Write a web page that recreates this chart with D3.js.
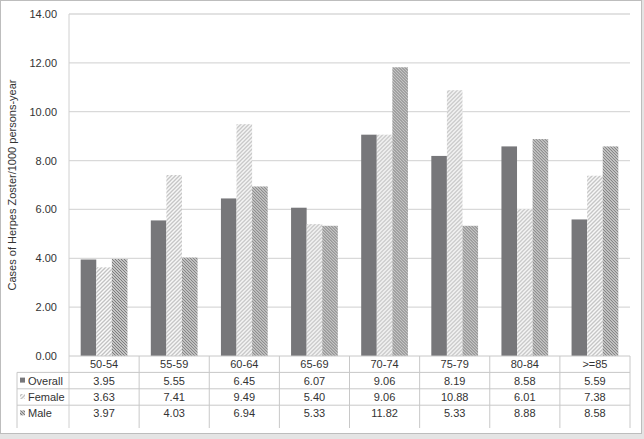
<!DOCTYPE html>
<html>
<head>
<meta charset="utf-8">
<script src="https://cdn.jsdelivr.net/npm/d3@7"></script>
<style>
  body { margin: 0; background: #e4e4e4; }
  svg { display: block; }
  text { font-family: "Liberation Sans", Arial, sans-serif; fill: #333; }
</style>
</head>
<body>
<div id="chart"></div>
<script>
// dati
const categories = ["50-54", "55-59", "60-64", "65-69", "70-74", "75-79", "80-84", ">=85"];
const seriesNames = ["Overall", "Female", "Male"];
const overall = [3.95, 5.55, 6.45, 6.07, 9.06, 8.19, 8.58, 5.59];
const female = [3.63, 7.41, 9.49, 5.40, 9.06, 10.88, 6.01, 7.38];
const male = [3.97, 4.03, 6.94, 5.33, 11.82, 5.33, 8.88, 8.58];
const yTicks = [0, 2, 4, 6, 8, 10, 12, 14];

const valori = [overall, female, male];

const W = 644, H = 439;
const plotLeft = 69, plotRight = 630, plotTop = 14, plotBottom = 356;
const rowH = 16.4;
const tableLeft = 17;
const tableBottom = 428;

const svg = d3.select("#chart").append("svg")
    .attr("width", W)
    .attr("height", H);

// pattern per le serie
const defs = svg.append("defs");
let pf = defs.append("pattern")
    .attr("id", "pFemale")
    .attr("patternUnits", "userSpaceOnUse")
    .attr("width", 4).attr("height", 4);
pf.append("rect").attr("width", 4).attr("height", 4).attr("fill", "#fafafa");
pf.append("path")
    .attr("d", "M-1,1 l2,-2 M0,4 l4,-4 M3,5 l2,-2")
    .attr("stroke", "#c2c2c2").attr("stroke-width", 1.3);

let pm = defs.append("pattern")
    .attr("id", "pMale")
    .attr("patternUnits", "userSpaceOnUse")
    .attr("width", 3).attr("height", 3);
pm.append("rect").attr("width", 3).attr("height", 3).attr("fill", "#e6e6e6");
pm.append("path")
    .attr("d", "M-1,2 l2,2 M0,0 l3,3 M2,-1 l2,2")
    .attr("stroke", "#7a7a7a").attr("stroke-width", 1.2);

const fills = ["#77777a", "url(#pFemale)", "url(#pMale)"];

// sfondo e bordo
svg.append("rect")
    .attr("x", 0.5).attr("y", 0.5)
    .attr("width", 641).attr("height", 433)
    .attr("fill", "#fff")
    .attr("stroke", "#bdbdbd");

const x0 = d3.scaleBand().domain(categories).range([plotLeft, plotRight]).padding(0);
const x1 = d3.scaleBand().domain(seriesNames).range([0, x0.bandwidth()])
    .paddingInner(0).paddingOuter(0.75);
const y = d3.scaleLinear().domain([0, 14]).range([plotBottom, plotTop]);

// griglia
svg.append("g")
    .selectAll("line")
    .data(yTicks.slice(1))
    .enter().append("line")
    .attr("x1", plotLeft).attr("x2", plotRight)
    .attr("y1", (d) => y(d)).attr("y2", (d) => y(d))
    .style("stroke", "#d9d9d9")
    .style("stroke-width", 1.3);

// etichette asse y
svg.append("g")
    .selectAll("text")
    .data(yTicks)
    .enter().append("text")
    .attr("x", 57)
    .attr("y", (d) => y(d) + 4)
    .attr("text-anchor", "end")
    .style("font-size", "11px")
    .text((d) => d.toFixed(2));

// titolo asse y
svg.append("text")
    .attr("transform", `translate(16, ${(plotTop + plotBottom) / 2}) rotate(-90)`)
    .attr("text-anchor", "middle")
    .style("font-size", "11px")
    .text("Cases of Herpes Zoster/1000 persons-year");

// barre
const gruppi = svg.append("g")
    .selectAll("g")
    .data(categories)
    .enter().append("g")
    .attr("transform", (d) => `translate(${x0(d)},0)`);

gruppi.selectAll("rect")
    .data((d, i) => seriesNames.map((s, k) => ({ s: s, v: valori[k][i], k: k })))
    .enter().append("rect")
    .attr("x", (d) => x1(d.s))
    .attr("width", x1.bandwidth())
    .attr("y", (d) => y(d.v))
    .attr("height", (d) => plotBottom - y(d.v))
    .attr("fill", (d) => fills[d.k]);

// tabella dati
const lineColor = "#c8c8c8";
const tab = svg.append("g");

// asse orizzontale
tab.append("line")
    .attr("x1", plotLeft).attr("x2", plotRight)
    .attr("y1", plotBottom).attr("y2", plotBottom)
    .style("stroke", lineColor);

// asse y verticale
tab.append("line")
    .attr("x1", plotLeft).attr("x2", plotLeft)
    .attr("y1", plotTop).attr("y2", tableBottom)
    .style("stroke", "#d0d0d0");

// righe orizzontali
for (let r = 0; r < 3; r++) {
    let yy = plotBottom + rowH * (r + 1);
    tab.append("line")
        .attr("x1", tableLeft).attr("x2", plotRight)
        .attr("y1", yy).attr("y2", yy)
        .style("stroke", lineColor);
}

// linee verticali
let bordi = categories.map((c) => x0(c) + x0.bandwidth());
tab.selectAll("line.v")
    .data(bordi)
    .enter().append("line")
    .attr("class", "v")
    .attr("x1", (d) => d).attr("x2", (d) => d)
    .attr("y1", plotBottom).attr("y2", tableBottom)
    .style("stroke", lineColor);

tab.append("line")
    .attr("x1", tableLeft).attr("x2", tableLeft)
    .attr("y1", plotBottom + rowH).attr("y2", tableBottom)
    .style("stroke", lineColor);

// intestazioni categorie
tab.selectAll("text.cat")
    .data(categories)
    .enter().append("text")
    .attr("class", "cat")
    .attr("x", (d) => x0(d) + x0.bandwidth() / 2)
    .attr("y", plotBottom + rowH / 2 + 4)
    .attr("text-anchor", "middle")
    .style("font-size", "11px")
    .text((d) => d);

// valori e legenda
seriesNames.forEach((s, k) => {
    let cy = plotBottom + rowH * (k + 1) + rowH / 2;
    tab.append("rect")
        .attr("x", 20).attr("y", cy - 3)
        .attr("width", 5).attr("height", 5)
        .attr("fill", fills[k]);
    tab.append("text")
        .attr("x", 28).attr("y", cy + 4)
        .style("font-size", "11px")
        .text(s);
    tab.selectAll(null)
        .data(valori[k])
        .enter().append("text")
        .attr("x", (d, i) => x0(categories[i]) + x0.bandwidth() / 2)
        .attr("y", cy + 4)
        .attr("text-anchor", "middle")
        .style("font-size", "11px")
        .text((d) => d.toFixed(2));
});
</script>
</body>
</html>
